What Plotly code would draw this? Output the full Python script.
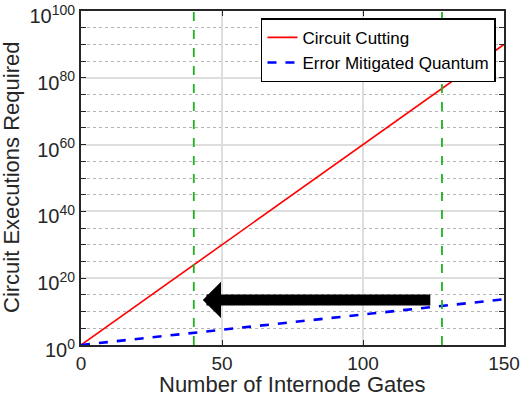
# plot.py
# Circuit executions needed vs number of internode gates (log scale)

import plotly.graph_objects as go

# data
gates = [0, 150]
circuit_cutting = [1e0, 1e90]
error_mitigated = [1e0, 5e13]

limit_lines = [40, 128]          # green dashed markers
arrow_from = 124.4               # arrow tail (x)
arrow_to = 43.2                  # arrow tip (x)
arrow_level = 13.5               # log10 of arrow height

y_major = [0, 20, 40, 60, 80, 100]
y_minor = list(range(0, 101, 5))
x_ticks = [0, 50, 100, 150]

font_name = "Liberation Sans, Arial, sans-serif"
axis_col = "#262626"
title_font = dict(size=22, color=axis_col, family=font_name)

fig = go.Figure()

fig.add_trace(go.Scatter(
    x=gates, y=circuit_cutting, mode="lines", name="Circuit Cutting",
    line=dict(color="#ff0000", width=1.6)
))
fig.add_trace(go.Scatter(
    x=gates, y=error_mitigated, mode="lines", name="Error Mitigated Quantum",
    line=dict(color="#0000ff", width=2.6, dash="dash")
))

# vertical green dashed lines
for xv in limit_lines:
    fig.add_trace(go.Scatter(
        x=[xv, xv], y=[1e0, 1e100], mode="lines", showlegend=False,
        line=dict(color="#1fb31f", width=1.8, dash="dash"),
        hoverinfo="skip"
    ))

# big black arrow pointing left
fig.add_annotation(
    x=arrow_to, y=arrow_level, ax=arrow_from, ay=arrow_level,
    xref="x", yref="y", axref="x", ayref="y",
    text="", showarrow=True, arrowhead=1, arrowsize=0.55,
    arrowwidth=11, arrowcolor="black"
)

# axis titles as annotations so they can be placed freely
fig.add_annotation(
    text="Number of Internode Gates", xref="paper", yref="paper",
    x=0.5, y=0, xanchor="center", yanchor="middle", yshift=-39,
    showarrow=False, font=title_font
)
fig.add_annotation(
    text="Circuit Executions Required", xref="paper", yref="paper",
    x=0, y=0.5, xanchor="center", yanchor="middle", xshift=-70,
    textangle=-90, showarrow=False, font=title_font
)

fig.update_xaxes(
    range=[0, 150], tickvals=x_ticks, ticktext=[str(v) for v in x_ticks],
    showline=True, linecolor=axis_col, linewidth=2, mirror="ticks",
    ticks="inside", ticklen=5, tickwidth=1, tickcolor=axis_col,
    showgrid=True, gridcolor="#dedede", gridwidth=1.5,
    zeroline=False, automargin=False, ticklabeloverflow="allow",
    tickfont=dict(size=19, color=axis_col, family=font_name)
)

fig.update_yaxes(
    type="log", range=[0, 100],
    tickvals=[10.0 ** k for k in y_major],
    ticktext=[f"10<sup>{k}</sup>" for k in y_major],
    showline=True, linecolor=axis_col, linewidth=2, mirror="ticks",
    ticks="inside", ticklen=5, tickwidth=1, tickcolor=axis_col,
    showgrid=True, gridcolor="#dedede", gridwidth=1.5,
    zeroline=False, automargin=False, ticklabeloverflow="allow",
    ticklabelshift=5,
    minor=dict(tickvals=[10.0 ** k for k in y_minor], ticks="inside",
               ticklen=5, tickcolor=axis_col, showgrid=True,
               gridcolor="#b4b4b4", griddash="dot", gridwidth=1),
    tickfont=dict(size=20, color=axis_col, family=font_name)
)

fig.update_layout(
    width=520, height=396,
    margin=dict(l=81, r=16, t=11, b=51),
    plot_bgcolor="white", paper_bgcolor="white",
    font=dict(family=font_name, color="black"),
    legend=dict(
        x=0.981, y=0.978, xanchor="right", yanchor="top",
        bgcolor="white", bordercolor="black", borderwidth=1.5,
        font=dict(size=17, color="black", family=font_name),
        itemwidth=30, tracegroupgap=0
    )
)

# drop the default body margin so the figure sits at the window corner
fig.write_html("out.html", config={"displayModeBar": False},
               post_script="document.body.style.margin='0';")
